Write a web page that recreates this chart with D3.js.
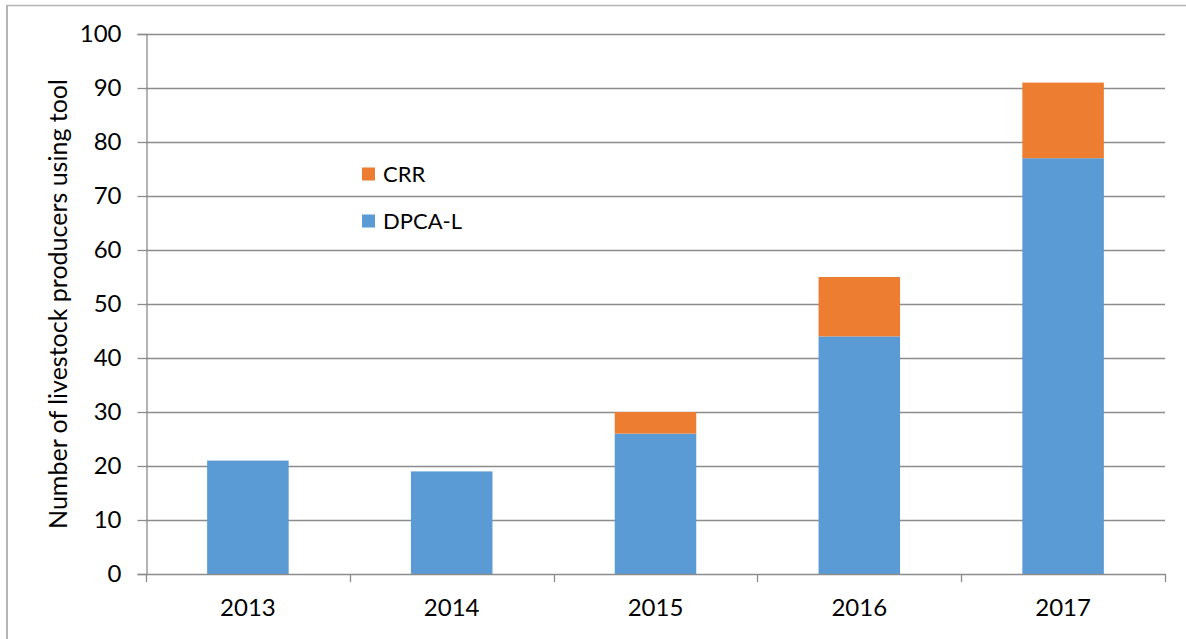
<!DOCTYPE html>
<html>
<head>
<meta charset="utf-8">
<script src="https://cdn.jsdelivr.net/npm/d3@7"></script>
<style>
  html, body { margin: 0; padding: 0; background: #fff; }
  svg { display: block; }
  text { font-family: Lato, "Open Sans", "Liberation Sans", sans-serif; fill: #000; }
</style>
</head>
<body>
<svg id="chart" width="1186" height="639"></svg>
<script>
const years = ["2013", "2014", "2015", "2016", "2017"];
const dpcaL = [21, 19, 26, 44, 77];
const crr = [0, 0, 4, 11, 14];
const yTicks = [0, 10, 20, 30, 40, 50, 60, 70, 80, 90, 100];
const seriesNames = ["DPCA-L", "CRR"];
const seriesColors = ["#5b9bd5", "#ed7d31"];
const yTitle = "Number of livestock producers using tool";

(function () {
const svg = d3.select("#chart");
const W = 1186, H = 639;
const pLeft = 146, pRight = 1165, pTop = 34, pBottom = 574;
const FONT = "Lato, 'Open Sans', 'Liberation Sans', sans-serif";

// outer frame
svg.append("line").attr("x1", 7).attr("x2", W).attr("y1", 5.5).attr("y2", 5.5)
  .attr("stroke", "#b4b4b4").attr("stroke-width", 1.5);
svg.append("line").attr("x1", 7).attr("x2", 7).attr("y1", 5).attr("y2", H)
  .attr("stroke", "#b4b4b4").attr("stroke-width", 2);

const x = d3.scaleBand().domain(years).range([pLeft, pRight]).paddingInner(0.6).paddingOuter(0.3);
const y = d3.scaleLinear().domain([0, 100]).range([pBottom, pTop]);

// gridlines
svg.append("g").selectAll("line").data(yTicks.filter(d => d > 0)).join("line")
  .attr("x1", pLeft).attr("x2", pRight)
  .attr("y1", d => Math.round(y(d)) + 0.5).attr("y2", d => Math.round(y(d)) + 0.5)
  .attr("stroke", "#8c8c8c").attr("stroke-width", 1.3);

// stacked bars
const rows = years.map((yr, i) => ({ year: yr, "DPCA-L": dpcaL[i], "CRR": crr[i] }));
const stack = d3.stack().keys(seriesNames)(rows);
svg.append("g").selectAll("g").data(stack).join("g")
  .attr("fill", (d, i) => seriesColors[i])
  .selectAll("rect").data(d => d.filter(p => p[1] - p[0] > 0)).join("rect")
  .attr("x", d => x(d.data.year))
  .attr("width", x.bandwidth())
  .attr("y", d => y(d[1]))
  .attr("height", d => y(d[0]) - y(d[1]));

// y axis
const yAxis = svg.append("g").attr("transform", `translate(${pLeft + 0.5},0)`)
  .call(d3.axisLeft(y).tickValues(yTicks).tickSize(9).tickPadding(16));
yAxis.select(".domain").attr("stroke", "#8c8c8c").attr("stroke-width", 1.3);
yAxis.selectAll(".tick line").attr("stroke", "#8c8c8c").attr("stroke-width", 1.3);
yAxis.selectAll(".tick text").style("font-size", "24px").attr("fill", "#000")
  .style("font-family", FONT);

// x axis
const boundaries = d3.range(years.length + 1).map(i => pLeft + i * (pRight - pLeft) / years.length);
const xg = svg.append("g");
xg.append("line").attr("x1", pLeft).attr("x2", pRight + 0.5)
  .attr("y1", pBottom + 0.5).attr("y2", pBottom + 0.5)
  .attr("stroke", "#8c8c8c").attr("stroke-width", 1.3);
xg.selectAll("line.tk").data(boundaries).join("line").attr("class", "tk")
  .attr("x1", d => Math.round(d) + 0.5).attr("x2", d => Math.round(d) + 0.5)
  .attr("y1", pBottom).attr("y2", pBottom + 8)
  .attr("stroke", "#8c8c8c").attr("stroke-width", 1.3);
xg.selectAll("text").data(years).join("text")
  .attr("x", d => x(d) + x.bandwidth() / 2)
  .attr("y", 616)
  .attr("text-anchor", "middle")
  .style("font-size", "24px")
  .text(d => d);

// y title
svg.append("text")
  .attr("transform", `translate(67,${(pTop + pBottom) / 2}) rotate(-90)`)
  .attr("text-anchor", "middle")
  .style("font-size", "25px")
  .text(yTitle);

// legend
const legendItems = [
  { name: seriesNames[1], color: seriesColors[1], y: 174 },
  { name: seriesNames[0], color: seriesColors[0], y: 221 }
];
const lg = svg.append("g");
lg.selectAll("rect").data(legendItems).join("rect")
  .attr("x", 362).attr("y", d => d.y - 6.5).attr("width", 13).attr("height", 13)
  .attr("fill", d => d.color);
lg.selectAll("text").data(legendItems).join("text")
  .attr("x", 383).attr("y", d => d.y + 8)
  .style("font-size", "22px")
  .text(d => d.name);
})();
</script>
</body>
</html>
